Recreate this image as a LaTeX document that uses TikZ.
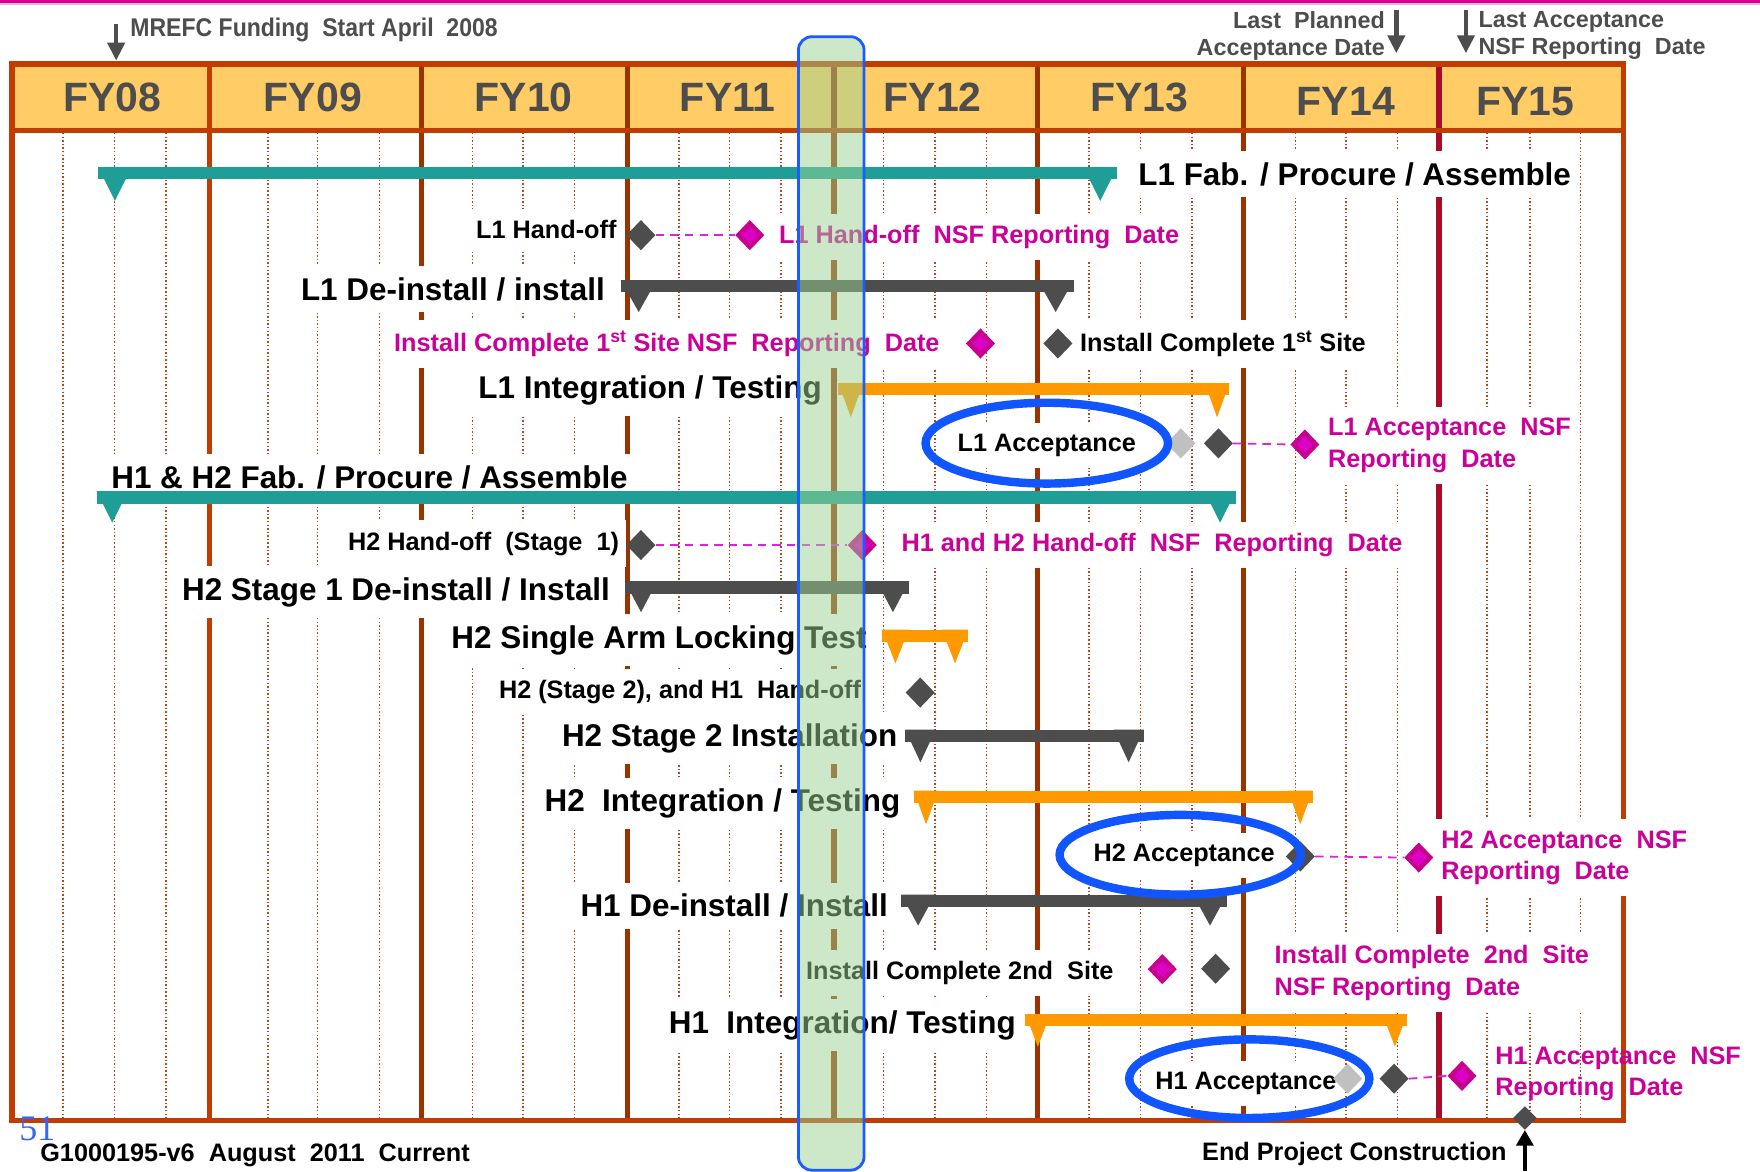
\documentclass[tikz,border=0pt]{standalone}
\usepackage{fontspec}
\setmainfont{Liberation Sans}
\newfontfamily\numfont{Liberation Serif}
\usetikzlibrary{shapes.geometric,arrows.meta}
\definecolor{framec}{HTML}{C03C00}
\definecolor{divbrown}{HTML}{9A3300}
\definecolor{divcrimson}{HTML}{A80C28}
\definecolor{dotc}{HTML}{B5471A}
\definecolor{hdrfill}{HTML}{FFCC66}
\definecolor{fygray}{HTML}{4D4D4D}
\definecolor{barteal}{HTML}{1E9E96}
\definecolor{bargray}{HTML}{4D4D4D}
\definecolor{barorange}{HTML}{FF9900}
\definecolor{magtext}{HTML}{CC0099}
\definecolor{magdia}{HTML}{C8008F}
\definecolor{magin}{HTML}{DC00C8}
\definecolor{magline}{HTML}{DD22DD}
\definecolor{ellblue}{HTML}{1155FF}
\definecolor{lgray}{HTML}{C0C0C0}
\definecolor{bandgreen}{HTML}{9CD294}
\definecolor{bandblue}{HTML}{1A5CFF}
\definecolor{numblue}{HTML}{3366FF}
\definecolor{topmag}{HTML}{DD0088}
\definecolor{toplav}{HTML}{E6B8F2}
\tikzset{
 dotline/.style={dotc, line width=1.4pt, dash pattern=on 1.3pt off 1.9pt},
 divline/.style={line width=4.5pt},
 bigtxt/.style={font=\fontsize{28}{32}\selectfont\bfseries, text=black},
 smltxt/.style={font=\fontsize{22.5}{28}\selectfont\bfseries, text=black},
 magtxt/.style={smltxt, text=magtext},
 masked/.style={fill=white, inner xsep=6pt, inner ysep=10pt},
 fytxt/.style={font=\fontsize{36.5}{40}\selectfont\bfseries, text=fygray, inner sep=0},
 anntxt/.style={font=\fontsize{20.8}{24}\selectfont\bfseries, text=fygray, inner sep=0},
 gdia/.style={shape=diamond, fill=bargray, minimum width=26pt, minimum height=27pt, inner sep=0},
 ldia/.style={gdia, fill=lgray},
 mdia/.style={gdia, fill=magdia, path picture={\fill[magin] (path picture bounding box.center) ++(0,7) -- ++(7,-7) -- ++(-7,-7) -- ++(-7,7) -- cycle;}},
 magdash/.style={magline, line width=1.6pt, dash pattern=on 7.5pt off 5.5pt},
 ellip/.style={shape=ellipse, draw=ellblue, line width=7.5pt, inner sep=0},
 downarr/.style={fygray, line width=4pt, -{Triangle[width=15pt,length=16pt]}},
 endarr/.style={black, line width=4pt, -{Triangle[width=15pt,length=14pt]}},
}
\newcommand{\ganttbar}[6]{%
 \fill[#1] (#2,{#4-5.5}) rectangle (#3,{#4+5.5});
 \fill[#1] (#2,{#4-5.5}) -- ({#2+#5},{#4-5.5}) -- ({#2+#5/2},{#4-5.5+#6}) -- cycle;
 \fill[#1] (#3,{#4-5.5}) -- ({#3-#5},{#4-5.5}) -- ({#3-#5/2},{#4-5.5+#6}) -- cycle;}
\begin{document}
\begin{tikzpicture}[x=1pt,y=-1pt]
\useasboundingbox (0,0) rectangle (1568,1044);
\fill[white] (0,0) rectangle (1568,1044);
% top line
\fill[topmag] (0,0) rectangle (1568,2.4);
\fill[toplav] (0,2.4) rectangle (1568,4.2);
% header
\fill[hdrfill] (10.8,57) rectangle (1446.5,116.3);
% dotted quarter lines
\foreach \x in {56,102,148,239,283,338,421,466,512,605,650,696,787,833,879,970,1016,1062,1154,1199,1245,1325,1363,1408}
  \draw[dotline] (\x,118.5) -- (\x,996);
% year dividers
\draw[divline, framec] (187,57) -- (187,998);
\foreach \x in {375.5,559,743,924,1108}
  \draw[divline, divbrown] (\x,57) -- (\x,998);
\draw[divline, divcrimson] (1282,57) -- (1282,998);
% frame
\draw[framec, line width=4.7pt] (10.8,57) rectangle (1446.5,998);
\draw[framec, line width=4.7pt] (10.8,116.3) -- (1446.5,116.3);
% FY labels
\node[fytxt, anchor=base] (fy08) at (100,99.5) {FY08};
\node[fytxt, anchor=base] (fy09) at (278.7,99.5) {FY09};
\node[fytxt, anchor=base] (fy10) at (466.5,99.5) {FY10};
\node[fytxt, anchor=base] (fy11) at (648.4,99.5) {FY11};
\node[fytxt, anchor=base] (fy12) at (831,99.5) {FY12};
\node[fytxt, anchor=base] (fy13) at (1014.8,99.5) {FY13};
\node[fytxt, anchor=base] (fy14) at (1199,102.5) {FY14};
\node[fytxt, anchor=base] (fy15) at (1359,102.5) {FY15};
% top annotations
\node[anntxt, font=\fontsize{22.8}{24}\selectfont\bfseries, anchor=base west] (tmrefc) at (116,32.7) {\scalebox{0.9}[1]{MREFC Funding~ Start April~ 2008}};
\node[anntxt, anchor=north east, align=right] (tlastpl) at (1234,10.4) {Last~ Planned\\Acceptance Date};
\node[anntxt, anchor=north west, align=left] (tlastacc) at (1317,10.4) {Last Acceptance\\NSF Reporting~ Date};
\coordinate (a1s) at (103.5,21); \coordinate (a1e) at (103.5,54);
\coordinate (a2s) at (1244,9); \coordinate (a2e) at (1244,47.5);
\coordinate (a3s) at (1306,9); \coordinate (a3e) at (1306,47.5);
\draw[downarr] (a1s) -- (a1e);
\draw[downarr] (a2s) -- (a2e);
\draw[downarr] (a3s) -- (a3e);
% row texts (masking)
\node[bigtxt, masked, anchor=base west] (tl1fab) at (1008,165) {L1 Fab. / Procure / Assemble};
\node[smltxt, masked, anchor=base west] (tl1ho) at (418,212.3) {L1 Hand-off};
\node[magtxt, masked, anchor=base west] (tl1honsf) at (688,217) {L1 Hand-off~ NSF Reporting~ Date};
\node[bigtxt, masked, anchor=base west] (tl1de) at (262,267.3) {L1 De-install / install};
\node[magtxt, masked, anchor=base west] (tic1nsf) at (345,313) {Install Complete 1\textsuperscript{st} Site NSF~ Reporting~ Date};
\node[smltxt, masked, anchor=base west] (tic1) at (956,313) {Install Complete 1\textsuperscript{st} Site};
\node[bigtxt, masked, anchor=base west] (tl1int) at (420,355) {L1 Integration / Testing};
\node[smltxt, masked, anchor=base] (tl1acc) at (932.6,402.5) {L1 Acceptance};
\node[magtxt, masked, anchor=north west, align=left] (tl1accnsf) at (1177,362.5) {L1 Acceptance~ NSF\\Reporting~ Date};
\node[bigtxt, masked, anchor=base west] (thfab) at (93,435) {H1 \& H2 Fab. / Procure / Assemble};
\node[smltxt, masked, anchor=base west] (th2ho) at (304,490) {H2 Hand-off~ (Stage~ 1)};
\node[magtxt, masked, anchor=base west] (thhonsf) at (797,491.5) {H1 and H2 Hand-off~ NSF~ Reporting~ Date};
\node[bigtxt, masked, anchor=base west] (th2s1) at (156,534.6) {H2 Stage 1 De-install / Install};
\node[bigtxt, masked, anchor=base west] (th2sa) at (396,577.6) {H2 Single Arm Locking Test};
\node[smltxt, masked, anchor=base west] (th2s2ho) at (438.4,622) {H2 (Stage 2), and H1~ Hand-off};
\node[bigtxt, masked, anchor=base west] (th2s2) at (494.5,665) {H2 Stage 2 Installation};
\node[bigtxt, masked, anchor=base west] (th2int) at (479,723) {H2~ Integration / Testing};
\node[smltxt, masked, anchor=base] (th2acc) at (1055,767.7) {H2 Acceptance};
\node[magtxt, masked, anchor=north west, align=left] (th2accnsf) at (1278,729.6) {H2 Acceptance~ NSF\\Reporting~ Date};
\node[bigtxt, masked, anchor=base west] (th1de) at (511,816.7) {H1 De-install / Install};
\node[smltxt, masked, anchor=base west] (tic2) at (712,873) {Install Complete 2nd~ Site};
\node[magtxt, masked, anchor=north west, align=left] (tic2nsf) at (1129.4,832) {Install Complete~ 2nd~ Site\\NSF Reporting~ Date};
\node[bigtxt, masked, anchor=base west] (th1int) at (589.7,920.6) {H1~ Integration/ Testing};
\node[smltxt, masked, anchor=base] (th1acc) at (1110,971) {H1 Acceptance};
% bars
\ganttbar{barteal}{87.4}{995.2}{154.4}{30}{30}
\ganttbar{bargray}{553}{956.5}{255}{32}{28.5}
\ganttbar{barorange}{747}{1095.3}{346.8}{22}{30.5}
\ganttbar{barteal}{86}{1101}{443.2}{28}{28}
\ganttbar{bargray}{556.6}{810}{523.4}{29}{27.5}
\ganttbar{barorange}{786}{862.6}{566.5}{23.5}{30}
\ganttbar{bargray}{806.5}{1019}{655.6}{27}{29}
\ganttbar{barorange}{814}{1169.4}{709.8}{22}{30}
\ganttbar{bargray}{803}{1093}{802.6}{30}{27.5}
\ganttbar{barorange}{913.6}{1253.7}{909}{22}{29}
% diamonds
\node[gdia] (gd1) at (571,209.5) {};
\node[mdia] (md1) at (668,209.5) {};
\node[mdia] (md2) at (873.5,306) {};
\node[gdia] (gd2) at (942.5,306) {};
\node[ldia] (ld3) at (1052,395) {};
\node[gdia] (gd3) at (1085.5,395) {};
\node[mdia] (md3) at (1162.5,396) {};
\node[gdia] (gd4) at (571,485.6) {};
\node[mdia] (md4) at (768.2,485.6) {};
\node[gdia] (gd5) at (819.8,617) {};
\node[gdia] (gd6) at (1158.5,763) {};
\node[mdia] (md6) at (1264,764) {};
\node[mdia] (md7) at (1035.5,863.4) {};
\node[gdia] (gd7) at (1083,863) {};
\node[ldia] (ld8) at (1200.6,961) {};
\node[gdia] (gd8) at (1242,961) {};
\node[mdia] (md8) at (1302.5,958.5) {};
% dashed links
\draw[magdash] (gd1.east) -- (md1.west);
\draw[magdash] (gd3.east) -- (md3.west);
\draw[magdash] (gd4.east) -- (md4.west);
\draw[magdash] (gd6.east) -- (md6.west);
\draw[magdash] (gd8.east) -- (md8.west);
% ellipses
\node[ellip, minimum width=216pt, minimum height=72pt] (el1) at (932.6,394.8) {};
\node[ellip, minimum width=215pt, minimum height=71pt] (el2) at (1051.5,761.5) {};
\node[ellip, minimum width=214pt, minimum height=70pt] (el3) at (1113,961) {};
% unmasked text
\node[magtxt, inner sep=0, anchor=north west, align=left] (th1accnsf) at (1332,932.5) {H1 Acceptance~ NSF\\Reporting~ Date};
% end project
\node[gdia, minimum width=21pt, minimum height=21pt] (gd9) at (1358.5,996) {};
\coordinate (a4s) at (1358.5,1043);
\draw[endarr] (a4s) -- (gd9.south);
\node[smltxt, anchor=base west] (tend) at (1067.5,1033.5) {End Project Construction};
\node[smltxt, anchor=base west] (tfoot) at (32.4,1035) {G1000195-v6~ August~ 2011~ Current};
\node[font=\numfont\fontsize{32}{34}\selectfont, text=numblue, anchor=base west, inner sep=0] (tnum) at (17,1016) {51};
% highlight band
\draw[draw=bandblue, line width=2.5pt, fill=bandgreen, fill opacity=0.5, rounded corners=12pt] (711.3,32.7) rectangle (769.8,1042.5);
\end{tikzpicture}
\end{document}
